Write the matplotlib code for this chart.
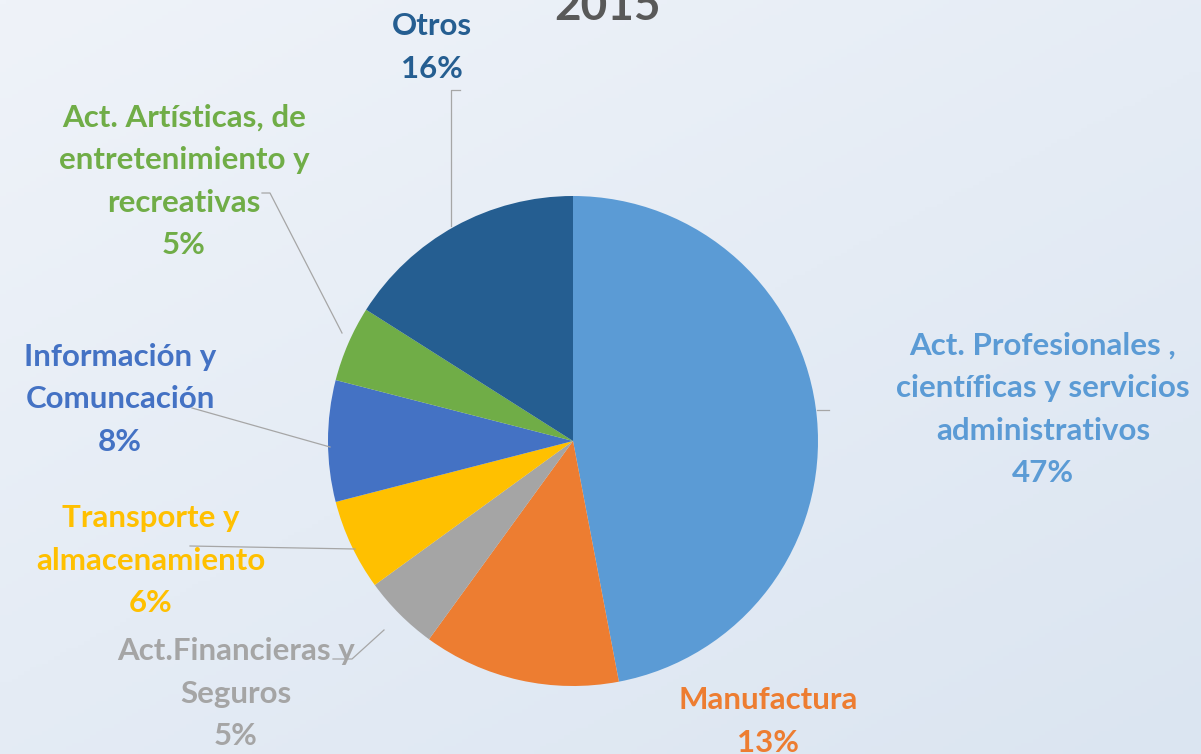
import matplotlib.pyplot as plt
import numpy as np

# datos 2015
labels = ['Act. Profesionales ,\ncientíficas y servicios\nadministrativos',
          'Manufactura',
          'Act.Financieras y\nSeguros',
          'Transporte y\nalmacenamiento',
          'Información y\nComuncación',
          'Act. Artísticas, de\nentretenimiento y\nrecreativas',
          'Otros']
values = [47, 13, 5, 6, 8, 5, 16]
colors = ['#5b9bd5', '#ed7d31', '#a5a5a5', '#ffc000', '#4472c4', '#70ad47', '#255e91']

# label centre x and first-line baseline (px), leader lines
label_pos = [(1043, 355), (768, 709), (236, 660), (151, 527), (120, 366), (184, 127), (432, 35)]
leaders = [
    [(817, 410), (829, 410)],
    None,
    [(384, 630), (352, 659), (333, 659)],
    [(355, 549), (190, 546)],
    [(330, 447), (192, 408)],
    [(342, 333), (270, 193), (262, 193)],
    [(451, 226), (451, 90), (460, 90)],
]
pitch = 42.5

plt.rcParams['font.family'] = ['Lato', 'DejaVu Sans']

fig = plt.figure(figsize=(12.01, 7.54), dpi=100)
ax = fig.add_axes([0, 0, 1, 1])

# soft background gradient
gx, gy = np.meshgrid(np.linspace(0, 1, 200), np.linspace(0, 1, 200))
g = 0.55 * gy + 0.45 * gx
c0 = np.array([0xef, 0xf3, 0xf9]) / 255
c1 = np.array([0xdb, 0xe5, 0xf1]) / 255
bg = c0[None, None, :] * (1 - g[..., None]) + c1[None, None, :] * g[..., None]
ax.imshow(bg, extent=(0, 1201, 754, 0), zorder=0)

cx, cy, r = 573, 441, 245
ax.pie(values, colors=colors, startangle=-90, counterclock=True,
       center=(cx, cy), radius=r, wedgeprops=dict(linewidth=0))

for lab, v, col, (x, y), ld in zip(labels, values, colors, label_pos, leaders):
    lines = lab.split('\n') + [f'{v}%']
    for i, s in enumerate(lines):
        ax.text(x, y + i * pitch, s, ha='center', va='baseline', color=col,
                fontsize=22.5, fontweight='bold')
    if ld:
        xs, ys = zip(*ld)
        ax.plot(xs, ys, color='#a6a6a6', lw=0.9)

ax.text(607, 20, '2015', ha='center', va='baseline', color='#595959',
        fontsize=33, fontweight='bold')

ax.set_xlim(0, 1201)
ax.set_ylim(754, 0)
ax.set_aspect('auto')
ax.axis('off')

fig.savefig('out.png', dpi=100)
